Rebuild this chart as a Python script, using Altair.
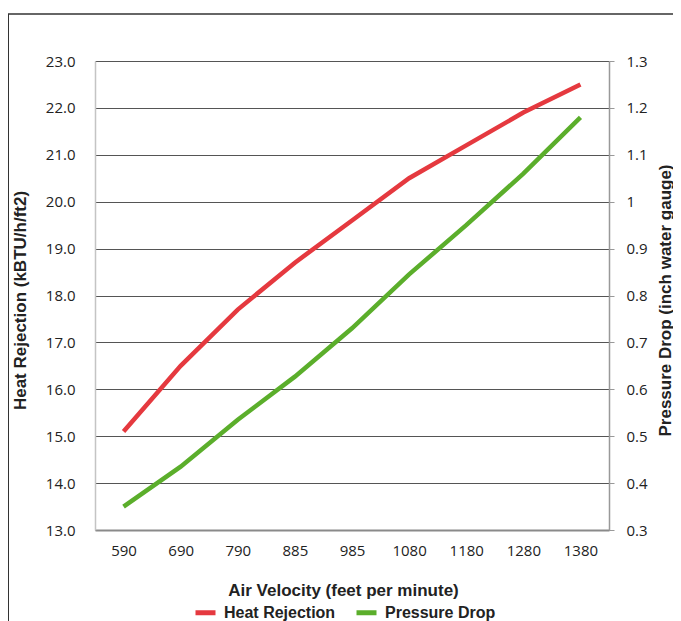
import altair as alt
import pandas as pd

# ---- data ----
velocity = ["590", "690", "790", "885", "985", "1080", "1180", "1280", "1380"]
heat_rejection = [15.1, 16.5, 17.7, 18.7, 19.6, 20.5, 21.2, 21.9, 22.5]
pressure_drop = [0.35, 0.435, 0.535, 0.627, 0.73, 0.845, 0.95, 1.06, 1.18]
series_names = ["Heat Rejection", "Pressure Drop"]
series_colors = ["#E5393F", "#5BAE2B"]
left_ticks = [13, 14, 15, 16, 17, 18, 19, 20, 21, 22, 23]
right_ticks = [0.3, 0.4, 0.5, 0.6, 0.7, 0.8, 0.9, 1.0, 1.1, 1.2, 1.3]

df = pd.DataFrame({"velocity": velocity, "heat": heat_rejection, "pressure": pressure_drop})

LABEL_FONT = "Open Sans"
TITLE_FONT = "Liberation Sans"

x_enc = alt.X(
    "velocity:O",
    sort=velocity,
    scale=alt.Scale(type="point", padding=0.5),
    axis=alt.Axis(
        title="Air Velocity (feet per minute)",
        labelAngle=0,
        labelFont=LABEL_FONT,
        labelFontSize=15,
        labelColor="#222",
        labelPadding=13,
        ticks=False,
        domainColor="#8a8a8a",
        domainWidth=2,
        titleFont=TITLE_FONT,
        titleFontSize=17,
        titleFontWeight="bold",
        titleColor="#222",
        titleX=248,
        titleY=60,
        titleBaseline="middle",
    ),
)

color_enc = alt.Color(
    "series:N",
    scale=alt.Scale(domain=series_names, range=series_colors),
    legend=alt.Legend(
        title=None,
        orient="none",
        legendX=98,
        legendY=539,
        direction="horizontal",
        symbolType="stroke",
        symbolSize=400,
        symbolStrokeWidth=5,
        labelFont=TITLE_FONT,
        labelFontSize=16,
        labelFontWeight="bold",
        labelColor="#222",
        labelOffset=6,
        columnPadding=10,
        padding=0,
    ),
)

heat_line = (
    alt.Chart(df)
    .transform_calculate(series=f"'{series_names[0]}'")
    .mark_line(strokeWidth=4.5)
    .encode(
        x=x_enc,
        y=alt.Y(
            "heat:Q",
            scale=alt.Scale(domain=[13, 23], nice=False, zero=False),
            axis=alt.Axis(
                orient="left",
                values=left_ticks,
                format=".1f",
                grid=True,
                gridColor="#555",
                gridWidth=1,
                ticks=False,
                domainColor="#c4c4c4",
                domainWidth=1.5,
                labelFont=LABEL_FONT,
                labelFontSize=15,
                labelColor="#222",
                labelPadding=20,
                title="Heat Rejection (kBTU/h/ft2)",
                titleFont=TITLE_FONT,
                titleFontSize=17,
                titleFontWeight="bold",
                titleColor="#222",
                titleAngle=270,
                titleX=-75,
                titleY=239,
                titleBaseline="middle",
            ),
        ),
        color=color_enc,
    )
)

pressure_line = (
    alt.Chart(df)
    .transform_calculate(series=f"'{series_names[1]}'")
    .mark_line(strokeWidth=4.5)
    .encode(
        x=x_enc,
        y=alt.Y(
            "pressure:Q",
            scale=alt.Scale(domain=[0.3, 1.3], nice=False, zero=False),
            axis=alt.Axis(
                orient="right",
                values=right_ticks,
                format="~g",
                grid=False,
                ticks=True,
                tickSize=5,
                tickColor="#999",
                domainColor="#999",
                domainWidth=1.5,
                labelFont=LABEL_FONT,
                labelFontSize=15,
                labelColor="#222",
                labelPadding=12,
                title="Pressure Drop (inch water gauge)",
                titleFont=TITLE_FONT,
                titleFontSize=17,
                titleFontWeight="bold",
                titleColor="#222",
                titleAngle=270,
                titleX=56,
                titleY=239,
                titleBaseline="middle",
            ),
        ),
        color=color_enc,
    )
)

frame_df = pd.DataFrame({"k": [0]})
frame_top = alt.Chart(frame_df).mark_rule(color="#333", strokeWidth=1.5).encode(
    x=alt.value(-87), x2=alt.value(590), y=alt.value(-47)
)
frame_left = alt.Chart(frame_df).mark_rule(color="#333", strokeWidth=2).encode(
    x=alt.value(-87), y=alt.value(-47), y2=alt.value(560)
)

chart = (
    alt.layer(heat_line, pressure_line, frame_top, frame_left)
    .resolve_scale(y="independent")
    .properties(
        width=514,
        height=469,
        autosize="none",
        padding={"left": 87, "top": 53, "right": 64, "bottom": 91},
    )
    .configure_view(stroke=None)
)

chart.save("out.html", embed_options={"renderer": "svg", "actions": False})
